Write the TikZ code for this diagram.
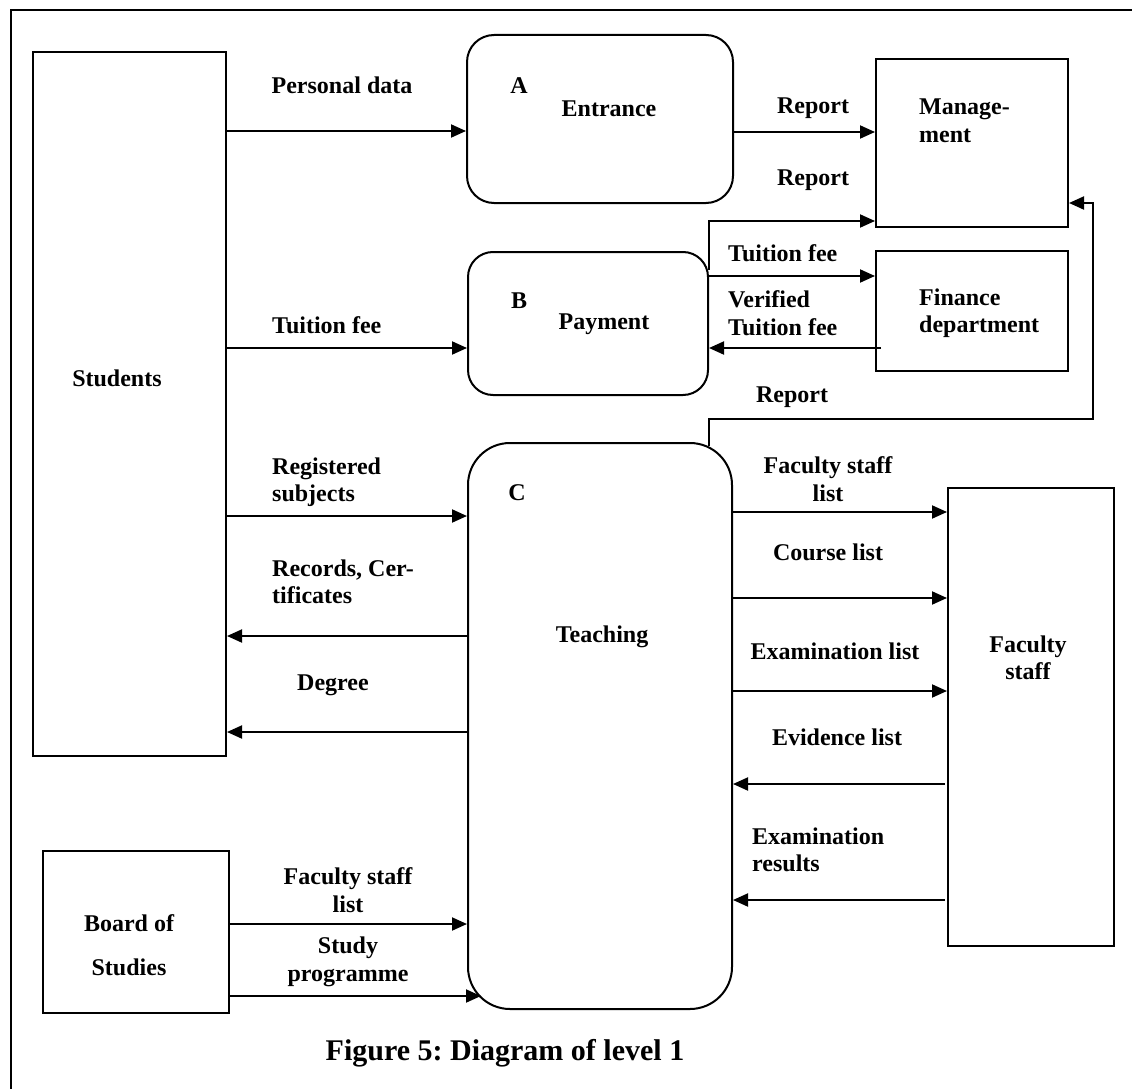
\documentclass[tikz,border=0pt]{standalone}
\usepackage{fontspec}
\setmainfont{Liberation Serif}
\usetikzlibrary{arrows.meta,calc}
\frenchspacing
\begin{document}
\begin{tikzpicture}[x=1pt,y=-1pt,
  box/.style={draw,line width=2pt,inner sep=0pt,minimum width=#1},
  proc/.style={box=#1},
  flow/.style={line width=2pt,-{Triangle[length=15pt,width=13pt]}},
  line/.style={line width=2pt},
  lbl/.style={inner sep=0pt,font=\fontsize{24}{27.5}\selectfont\bfseries},
  lblw/.style={lbl,anchor=west,align=left},
  lblc/.style={lbl,align=center}]
\useasboundingbox (0,0) rectangle (1132,1089);

% page frame (top and left edges)
\draw[line width=2.2pt] (11,1089) -- (11,10) -- (1132,10);

% external entities
\node[box=193pt,minimum height=704pt] (students) at (129.5,404) {};
\node[box=192pt,minimum height=168pt] (management) at (972,143) {};
\node[box=192pt,minimum height=120pt] (finance) at (972,311) {};
\node[box=166pt,minimum height=458pt] (faculty) at (1031,717) {};
\node[box=186pt,minimum height=162pt] (board) at (136,932) {};

% processes
\node[proc=266pt,minimum height=168pt,rounded corners=27pt] (entrance) at (600,119) {};
\node[proc=240pt,minimum height=143pt,rounded corners=25pt] (payment) at (588,323.5) {};
\node[proc=264pt,minimum height=566pt,rounded corners=42pt] (teaching) at (600,726) {};

% texts inside boxes
\node[lbl] (tstud) at (117,378) {Students};
\node[lbl,anchor=west,align=left] (tman) at (919,121) {Manage-\\ment};
\node[lbl,anchor=west,align=left] (tfin) at (919,313) {Finance\\department};
\node[lblc] (tfac) at (1028,658) {Faculty\\staff};
\node[lblc] (tboard) at (129,945) {Board of\\[16pt]Studies};
\node[lbl] (ta) at (519,86) {A};
\node[lbl] (tent) at (609,109) {Entrance};
\node[lbl] (tb) at (519,301) {B};
\node[lbl] (tpay) at (604,324) {Payment};
\node[lbl] (tc) at (517,493) {C};
\node[lbl] (tteach) at (602,637) {Teaching};

% data flows: Students <-> processes
\draw[flow] (students.east |- 0,131) -- (entrance.west |- 0,131);
\draw[flow] (students.east |- 0,348) -- (payment.west |- 0,348);
\draw[flow] (students.east |- 0,516) -- (teaching.west |- 0,516);
\draw[flow] (teaching.west |- 0,636) -- (students.east |- 0,636);
\draw[flow] (teaching.west |- 0,732) -- (students.east |- 0,732);

% data flows: Entrance / Payment -> Management, Finance
\draw[flow] (entrance.east |- 0,132) -- (management.west |- 0,132);
\draw[flow] (payment.east |- 0,270) -- (payment.east |- 0,221) -- (management.west |- 0,221);
\draw[flow] (payment.east |- 0,276) -- (finance.west |- 0,276);
\draw[flow] ($(finance.west |- 0,348)+(6,0)$) -- (payment.east |- 0,348);

% Teaching report -> Management
\coordinate (trep) at ($(teaching.north east)+(-24,4)$);
\draw[flow] (trep) -- (trep |- 0,419) -| (1093,203) -- (management.east |- 0,203);

% data flows: Teaching <-> Faculty staff
\draw[flow] (teaching.east |- 0,512) -- (faculty.west |- 0,512);
\draw[flow] (teaching.east |- 0,598) -- (faculty.west |- 0,598);
\draw[flow] (teaching.east |- 0,691) -- (faculty.west |- 0,691);
\draw[flow] ($(faculty.west |- 0,784)+(-2,0)$) -- (teaching.east |- 0,784);
\draw[flow] ($(faculty.west |- 0,900)+(-2,0)$) -- (teaching.east |- 0,900);

% data flows: Board of Studies -> Teaching
\draw[flow] (board.east |- 0,924) -- (teaching.west |- 0,924);
\draw[flow] (board.east |- 0,996) -- ($(teaching.west |- 0,996)+(14,0)$);

% flow labels
\node[lbl] (lpd) at (342,85) {Personal data};
\node[lbl] (lrep1) at (813,108) {Report};
\node[lbl] (lrep2) at (813,180) {Report};
\node[lblw] (ltf2) at (728,253) {Tuition fee};
\node[lblw] (lvtf) at (728,313) {Verified\\Tuition fee};
\node[lbl] (lrep3) at (792,397) {Report};
\node[lblw] (ltf1) at (272,325) {Tuition fee};
\node[lblw] (lreg) at (272,482) {Registered\\subjects};
\node[lblw] (lrec) at (272,582) {Records, Cer-\\tificates};
\node[lblw] (ldeg) at (297,685) {Degree};
\node[lblc] (lfsl) at (828,479) {Faculty staff\\list};
\node[lbl] (lcl) at (828,552) {Course list};
\node[lbl] (lel) at (835,651) {Examination list};
\node[lbl] (levl) at (837,737) {Evidence list};
\node[lblw] (lexr) at (752,850) {Examination\\results};
\node[lblc] (lbfsl) at (348,890) {Faculty staff\\list};
\node[lblc] (lsp) at (348,962) {Study\\programme};

% caption
\node[inner sep=0pt,font=\fontsize{30}{34}\selectfont\bfseries] (caption) at (505,1053) {Figure 5: Diagram of level 1};
\end{tikzpicture}
\end{document}
